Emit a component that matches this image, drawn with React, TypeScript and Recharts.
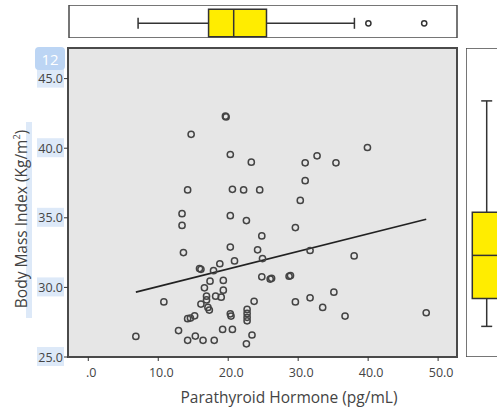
import { ScatterChart, Scatter, XAxis, YAxis, CartesianGrid, ReferenceLine, ReferenceArea } from 'recharts';

// PTH (x) vs BMI (y)
const pthValues = [
  19.6, 19.7, 14.7, 20.3, 23.3, 14.2, 20.6, 22.2, 24.5, 13.4, 20.3, 22.6, 13.4, 24.8, 20.3, 13.6,
  24.2, 20.9, 18.8, 15.9, 16.1, 17.9, 24.8, 17.4, 19.3, 16.6, 19.3, 16.9, 18.2, 19.0, 16.9, 10.8,
  23.7, 16.1, 17.1, 17.3, 20.3, 20.4, 22.7, 22.7, 22.7, 22.7, 15.2, 14.2, 14.6, 12.9, 19.2, 20.6,
  23.4, 6.8, 15.3, 14.2, 16.4, 18.0, 22.6, 29.6, 24.9, 31.7, 38.0, 26.0, 26.2, 28.7, 28.9, 29.6,
  31.7, 35.1, 33.5, 36.7, 48.3, 31.0, 32.7, 35.4, 39.9, 31.0, 30.3,
];
const bmiValues = [
  42.3, 42.25, 41.0, 39.55, 39.0, 37.0, 37.05, 37.0, 37.0, 35.3, 35.15, 34.8, 34.45, 33.7, 32.9, 32.5,
  32.7, 31.9, 31.7, 31.35, 31.3, 31.2, 30.76, 30.45, 30.5, 29.97, 29.8, 29.37, 29.37, 29.3, 29.1, 28.96,
  29.0, 28.8, 28.56, 28.37, 28.1, 27.94, 28.42, 28.13, 27.85, 27.6, 27.96, 27.75, 27.8, 26.9, 26.98, 26.98,
  26.58, 26.48, 26.5, 26.2, 26.2, 26.2, 25.95, 34.3, 32.07, 32.65, 32.26, 30.6, 30.65, 30.8, 30.85, 28.96,
  29.25, 29.66, 28.56, 27.94, 28.18, 38.95, 39.45, 38.95, 40.05, 37.67, 36.25,
];

const xTicks = [0, 10, 20, 30, 40, 50];
const yTicks = [25, 30, 35, 40, 45];

// fitted line end points
const fitLine = [
  { x: 6.8, y: 29.66 },
  { x: 48.3, y: 34.9 },
];

const pthBox = { min: 7.0, q1: 17.1, median: 20.7, q3: 25.4, max: 38.0 };
const pthOutliers = [40.0, 48.0];
const bmiBox = { min: 27.2, q1: 29.2, median: 32.3, q3: 35.4, max: 43.4 };

const X_DOMAIN: [number, number] = [-2.9, 52.7];
const Y_DOMAIN: [number, number] = [25, 47.2];
const FONT = '"Open Sans", "Noto Sans", sans-serif';
const FRAME = '#4a4a4a';
const BOX_FILL = '#ffed00';

const points = pthValues.map((x, i) => ({ x, y: bmiValues[i] }));

function Ring({ cx, cy }: any) {
  if (cx == null || cy == null) return null;
  return <circle cx={cx} cy={cy} r={3.1} fill="none" stroke="#444" strokeWidth={1.5} />;
}

function YTick({ x, y, payload }: any) {
  return (
    <g>
      <rect x={x - 25} y={y - 10} width={27} height={19} fill="#dde9f8" />
      <text x={x + 1} y={y} textAnchor="end" dominantBaseline="central" fontSize={12.5} fill="#444" fontFamily={FONT}>
        {payload.value.toFixed(1)}
      </text>
    </g>
  );
}

function XTick({ x, y, payload }: any) {
  const v = payload.value;
  return (
    <text x={x + 3} y={y + 14} textAnchor="middle" fontSize={12.5} fill="#444" fontFamily={FONT}>
      {v === 0 ? '.0' : v.toFixed(1)}
    </text>
  );
}

export default function App() {
  return (
    <div style={{ position: 'absolute', left: 0, top: 0, width: 497, height: 409, overflow: 'hidden', background: '#fff' }}>
      {/* main scatter */}
      <div style={{ position: 'absolute', left: 0, top: 0 }}>
        <ScatterChart width={497} height={409} margin={{ top: 48, right: 40, bottom: 0, left: 0 }}>
          <CartesianGrid horizontal={false} vertical={false} fill="#e6e6e6" />
          <XAxis
            type="number"
            dataKey="x"
            domain={X_DOMAIN}
            allowDataOverflow
            ticks={xTicks}
            height={52}
            axisLine={false}
            tickSize={4}
            tickLine={{ stroke: '#333' }}
            tick={<XTick />}
          />
          <YAxis
            type="number"
            dataKey="y"
            domain={Y_DOMAIN}
            allowDataOverflow
            ticks={yTicks}
            width={68}
            axisLine={false}
            tickSize={4}
            tickLine={{ stroke: '#333' }}
            tick={<YTick />}
          />
          <ReferenceArea
            x1={X_DOMAIN[0]}
            x2={X_DOMAIN[1]}
            y1={Y_DOMAIN[0]}
            y2={Y_DOMAIN[1]}
            fill="none"
            stroke={FRAME}
            strokeWidth={2}
          />
          <Scatter data={points} shape={<Ring />} isAnimationActive={false} />
          <ReferenceLine segment={fitLine} stroke="#222" strokeWidth={1.7} />
        </ScatterChart>
      </div>

      {/* top boxplot: PTH */}
      <div style={{ position: 'absolute', left: 0, top: 5 }}>
        <ScatterChart width={497} height={33} margin={{ top: 0, right: 40, bottom: 0, left: 69 }}>
          <XAxis type="number" dataKey="x" domain={X_DOMAIN} allowDataOverflow hide />
          <YAxis type="number" dataKey="y" domain={[0, 33]} allowDataOverflow hide />
          <ReferenceArea x1={X_DOMAIN[0]} x2={X_DOMAIN[1]} y1={0} y2={33} fill="#fff" stroke={FRAME} strokeWidth={1.5} />
          <ReferenceLine segment={[{ x: pthBox.min, y: 14.7 }, { x: pthBox.q1, y: 14.7 }]} stroke="#333" strokeWidth={1.5} />
          <ReferenceLine segment={[{ x: pthBox.q3, y: 14.7 }, { x: pthBox.max, y: 14.7 }]} stroke="#333" strokeWidth={1.5} />
          <ReferenceLine segment={[{ x: pthBox.min, y: 9.2 }, { x: pthBox.min, y: 20.2 }]} stroke="#333" strokeWidth={1.5} />
          <ReferenceLine segment={[{ x: pthBox.max, y: 9.2 }, { x: pthBox.max, y: 20.2 }]} stroke="#333" strokeWidth={1.5} />
          <ReferenceArea x1={pthBox.q1} x2={pthBox.q3} y1={1.3} y2={28.7} fill={BOX_FILL} fillOpacity={1} stroke="#333" strokeWidth={1.5} />
          <ReferenceLine segment={[{ x: pthBox.median, y: 1.3 }, { x: pthBox.median, y: 28.7 }]} stroke="#333" strokeWidth={1.5} />
          <Scatter
            data={pthOutliers.map((x) => ({ x, y: 14.7 }))}
            shape={(p: any) => <circle cx={p.cx} cy={p.cy} r={2.6} fill="#fff" stroke="#333" strokeWidth={1.5} />}
            isAnimationActive={false}
          />
        </ScatterChart>
      </div>

      {/* right boxplot: BMI */}
      <div style={{ position: 'absolute', left: 466, top: 48 }}>
        <ScatterChart width={41} height={309} margin={{ top: 0, right: 0, bottom: 0, left: 0 }}>
          <XAxis type="number" dataKey="x" domain={[0, 41]} allowDataOverflow hide />
          <YAxis type="number" dataKey="y" domain={Y_DOMAIN} allowDataOverflow hide />
          <ReferenceArea x1={0} x2={41} y1={Y_DOMAIN[0]} y2={Y_DOMAIN[1]} fill="#fff" stroke={FRAME} strokeWidth={1.5} />
          <ReferenceLine segment={[{ x: 20.7, y: bmiBox.min }, { x: 20.7, y: bmiBox.q1 }]} stroke="#333" strokeWidth={1.5} />
          <ReferenceLine segment={[{ x: 20.7, y: bmiBox.q3 }, { x: 20.7, y: bmiBox.max }]} stroke="#333" strokeWidth={1.5} />
          <ReferenceLine segment={[{ x: 15.2, y: bmiBox.min }, { x: 26.2, y: bmiBox.min }]} stroke="#333" strokeWidth={1.5} />
          <ReferenceLine segment={[{ x: 15.2, y: bmiBox.max }, { x: 26.2, y: bmiBox.max }]} stroke="#333" strokeWidth={1.5} />
          <ReferenceArea x1={6.3} x2={35} y1={bmiBox.q1} y2={bmiBox.q3} fill={BOX_FILL} fillOpacity={1} stroke="#333" strokeWidth={1.5} />
          <ReferenceLine segment={[{ x: 6.3, y: bmiBox.median }, { x: 35, y: bmiBox.median }]} stroke="#333" strokeWidth={1.5} />
          <Scatter data={[]} isAnimationActive={false} />
        </ScatterChart>
      </div>

      {/* titles and overlay bits */}
      <svg width={497} height={409} style={{ position: 'absolute', left: 0, top: 0, pointerEvents: 'none' }}>
        <rect x={35} y={47} width={30} height={23} rx={4} fill="#bcd5f4" />
        <text x={50} y={59} textAnchor="middle" dominantBaseline="central" fontSize={15} fill="#fff" fontFamily={FONT}>
          12
        </text>
        <rect x={26} y={122} width={6} height={196} fill="#dde9f8" />
        <text
          transform="translate(21, 219) rotate(-90)"
          textAnchor="middle"
          dominantBaseline="central"
          fontSize={15.5}
          fill="#444"
          fontFamily={FONT}
        >
          Body Mass Index (Kg/m<tspan dy={-5} fontSize={9}>2</tspan>
          <tspan dy={5}>)</tspan>
        </text>
        <text x={289} y={403} textAnchor="middle" fontSize={15.5} fill="#444" fontFamily={FONT}>
          Parathyroid Hormone (pg/mL)
        </text>
      </svg>
    </div>
  );
}
